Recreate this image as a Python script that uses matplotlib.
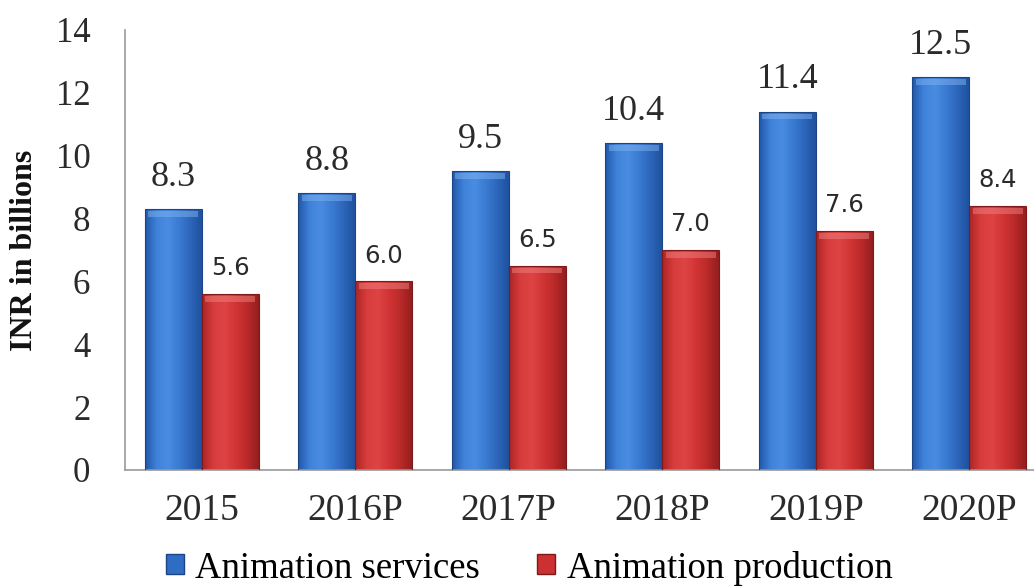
import numpy as np
import matplotlib.pyplot as plt
from matplotlib.colors import LinearSegmentedColormap
from matplotlib.patches import Rectangle

years = ['2015', '2016P', '2017P', '2018P', '2019P', '2020P']
services = [8.3, 8.8, 9.5, 10.4, 11.4, 12.5]
production = [5.6, 6.0, 6.5, 7.0, 7.6, 8.4]
series_names = ['Animation services', 'Animation production']
y_ticks = [0, 2, 4, 6, 8, 10, 12, 14]

SERIF = ['Liberation Serif', 'DejaVu Serif']
SANS = ['DejaVu Sans']
TXT = '#2a2a2a'

fig = plt.figure(figsize=(10.34, 5.88), dpi=100)
W, H = 1034, 588
ax = fig.add_axes([125 / W, 1 - 470 / H, (1046 - 125) / W, (470 - 30) / H])

x = np.arange(len(years))
w = 0.37

blue_cmap = LinearSegmentedColormap.from_list(
    'b', ['#2258aa', '#3f82da', '#4a8ce0', '#3a7bd3', '#2d66ba', '#1f52a0'])
red_cmap = LinearSegmentedColormap.from_list(
    'r', ['#ac2626', '#d83c3c', '#de4444', '#d13434', '#bb2a2a', '#941e1e'])

b1 = ax.bar(x - w / 2, services, w, facecolor='none', edgecolor='#1d4585',
            linewidth=0.8, zorder=3)
b2 = ax.bar(x + w / 2, production, w, facecolor='none', edgecolor='#7e1a1a',
            linewidth=0.8, zorder=3)

grad = np.linspace(0, 1, 64).reshape(1, -1)
cap_h = 0.24
for bars, cmap, capc in [(b1, blue_cmap, '#7fb2ee'), (b2, red_cmap, '#ee8080')]:
    for p in bars:
        x0, wd, ht = p.get_x(), p.get_width(), p.get_height()
        im = ax.imshow(grad, extent=[x0, x0 + wd, 0, ht], cmap=cmap,
                       aspect='auto', zorder=2, interpolation='bicubic')
        im.set_clip_path(p)
        cap = Rectangle((x0 + wd * 0.06, ht - cap_h), wd * 0.88, cap_h * 0.75,
                        facecolor=capc, edgecolor='none', alpha=0.5, zorder=2.5)
        ax.add_patch(cap)

for p, v in zip(b1, services):
    ax.annotate(f'{v:.1f}', (p.get_x() + p.get_width() / 2, v),
                xytext=(0, 11), textcoords='offset points', ha='center',
                va='bottom', fontsize=26, family=SERIF, color=TXT)
for p, v in zip(b2, production):
    ax.annotate(f'{v:.1f}', (p.get_x() + p.get_width() / 2, v),
                xytext=(0, 10), textcoords='offset points', ha='center',
                va='bottom', fontsize=17.5, family=SANS, color=TXT)

ax.set_xlim(-0.5, len(years) - 0.5)
ax.set_ylim(0, 14)
ax.set_yticks(y_ticks)
ax.set_yticklabels([str(t) for t in y_ticks], family=SERIF, fontsize=25, color=TXT)
ax.set_xticks(x)
ax.set_xticklabels(years, family=SERIF, fontsize=27, color=TXT)
ax.tick_params(axis='y', length=0, pad=25)
ax.tick_params(axis='x', length=0, pad=17)
for s in ['top', 'right']:
    ax.spines[s].set_visible(False)
ax.spines['left'].set_color('#9a9a9a')
ax.spines['bottom'].set_color('#9a9a9a')
ax.spines['left'].set_linewidth(1.2)
ax.spines['bottom'].set_linewidth(1.2)

ax.set_ylabel('INR in billions', family=SERIF, fontsize=23, fontweight='bold',
              color='#111111', labelpad=12)

handles = [Rectangle((0, 0), 1, 1, facecolor='#2f6cc4', edgecolor='#1d4585'),
           Rectangle((0, 0), 1, 1, facecolor='#cc3030', edgecolor='#7e1a1a')]
fig.legend(handles, series_names, loc='center', bbox_to_anchor=(529 / W, 1 - 568 / H),
           ncol=2, frameon=False, prop={'family': SERIF, 'size': 26.5},
           handlelength=0.5, handleheight=0.45, handletextpad=0.3,
           columnspacing=1.55, borderpad=0)

fig.savefig('out.png', dpi=100)
